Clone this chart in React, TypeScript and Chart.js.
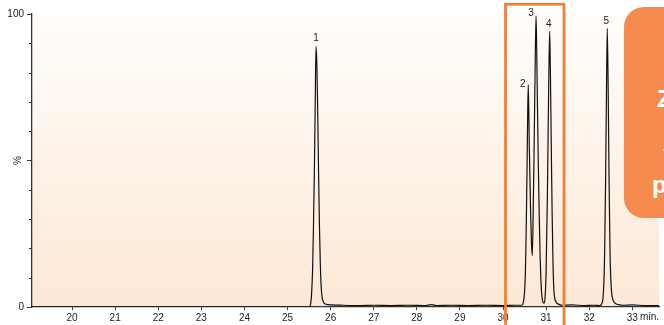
import React, { useEffect, useRef } from 'react';
import { Chart, registerables } from 'chart.js';

Chart.register(...registerables);

// Chromatogram trace (retention time in min, relative intensity in %)
const times = [
  19.07, 25.5, 25.52, 25.54, 25.56, 25.58, 25.6, 25.62, 25.64, 25.66, 25.68, 25.7, 25.72, 25.74, 25.76, 25.78, 25.8, 25.83, 25.88, 25.95,
  26.3, 26.7, 27.0, 27.4, 27.8, 28.2, 28.35, 28.45, 28.8, 29.2, 29.6, 30.0, 30.3, 30.44,
  30.47, 30.5, 30.52, 30.54, 30.56, 30.575, 30.587, 30.61, 30.64, 30.66, 30.68,
  30.7, 30.72, 30.74, 30.766, 30.78, 30.8, 30.82, 30.84, 30.86, 30.88, 30.9, 30.92, 30.95,
  30.975, 31.0, 31.03, 31.06, 31.083, 31.1, 31.12, 31.14, 31.16, 31.18, 31.2, 31.24, 31.3, 31.36,
  31.6, 31.9, 32.1, 32.25, 32.29, 32.32, 32.34, 32.36, 32.38, 32.4, 32.42, 32.44, 32.46, 32.48, 32.5, 32.52, 32.55, 32.6, 32.68,
  32.8, 33.0, 33.3, 33.62,
];
const intensity = [
  0, 0, 0.3, 1.5, 5, 12, 26, 44, 66, 89, 83, 67, 46, 28, 15, 7, 3.5, 1.8, 1, 0.8,
  0.6, 0.5, 0.6, 0.5, 0.6, 0.5, 0.8, 0.5, 0.6, 0.5, 0.6, 0.5, 0.6, 0.6,
  1.5, 5, 12, 28, 50, 68, 75.8, 55, 33, 22, 17.5,
  32, 52, 75, 99.4, 90, 68, 48, 32, 18, 9, 4, 2, 1.3,
  3, 12, 38, 75, 94.2, 80, 55, 32, 15, 6, 3, 1.5, 0.9, 0.6,
  0.7, 0.5, 0.6, 0.5, 1, 3, 8, 20, 42, 72, 95.1, 75, 45, 22, 10, 5, 2.5, 1.3, 0.8,
  0.6, 0.7, 0.5, 0.5,
];

// Peak annotations
const peakNames = ['1', '2', '3', '4', '5'];
const peakTimes = [25.66, 30.587, 30.766, 31.083, 32.42];
const peakHeights = [89, 75.8, 99.4, 94.2, 95.1];

// Axis settings
const xMin = 19.07;
const xMax = 33.62;
const xStep = 1;
const yMin = 0;
const yMax = 100;
const yStep = 10;
const yLabelValues = [0, 100];
const xUnit = 'min.';
const yUnit = '%';

// Highlighted retention window (peaks 2–4)
const highlightRange = [30.058, 31.415];

// Callout text lines
const calloutLines = ['Zoom', 'your', 'peaks'];

const FONT = '"Liberation Sans", Arial, Helvetica, sans-serif';
const labelOffsets = [
  [0, -7.5],
  [-5.5, -1],
  [-5, -3],
  [-1, -7],
  [-1, -7],
];

const decorPlugin = {
  id: 'decor',
  beforeDraw(chart: any) {
    const { ctx, chartArea } = chart;
    const { left, right, top, bottom } = chartArea;
    const g = ctx.createLinearGradient(0, top, 0, bottom);
    g.addColorStop(0, '#fffdfb');
    g.addColorStop(1, '#fde8d6');
    ctx.save();
    ctx.fillStyle = g;
    ctx.fillRect(left, top, right - left, bottom - top);
    ctx.restore();
  },
  afterDraw(chart: any) {
    const { ctx } = chart;
    const xs = chart.scales.x;
    const ys = chart.scales.y;
    ctx.save();
    // minor y ticks
    ctx.strokeStyle = '#333';
    ctx.lineWidth = 1;
    ctx.beginPath();
    ys.ticks.forEach((t: any) => {
      if (t.value % 50 !== 0) {
        const py = Math.round(ys.getPixelForValue(t.value)) + 0.5;
        ctx.moveTo(ys.right - 3, py);
        ctx.lineTo(ys.right, py);
      }
    });
    ctx.stroke();
    // peak labels
    ctx.fillStyle = '#222';
    ctx.font = `10px ${FONT}`;
    ctx.textAlign = 'center';
    ctx.textBaseline = 'middle';
    peakNames.forEach((n, i) => {
      const px = xs.getPixelForValue(peakTimes[i]) + labelOffsets[i][0];
      const py = ys.getPixelForValue(peakHeights[i]) + labelOffsets[i][1];
      ctx.fillText(n, px, py);
    });
    // highlight rectangle
    const x1 = xs.getPixelForValue(highlightRange[0]);
    const x2 = xs.getPixelForValue(highlightRange[1]);
    ctx.strokeStyle = '#f27b35';
    ctx.lineWidth = 2.7;
    ctx.strokeRect(x1, 4.2, x2 - x1, 340);
    ctx.restore();
  },
};

export default function App() {
  const ref = useRef<HTMLCanvasElement>(null);
  useEffect(() => {
    const chart = new Chart(ref.current as HTMLCanvasElement, {
      type: 'line',
      data: {
        datasets: [
          {
            data: times.map((t, i) => ({ x: t, y: intensity[i] })),
            borderColor: '#111',
            borderWidth: 1.2,
            pointRadius: 0,
            cubicInterpolationMode: 'monotone',
            fill: false,
          },
        ],
      },
      options: {
        animation: false,
        responsive: false,
        devicePixelRatio: 1,
        layout: { padding: { top: 14, right: 5, left: 0, bottom: 0 } },
        plugins: { legend: { display: false }, tooltip: { enabled: false } },
        scales: {
          x: {
            type: 'linear',
            min: xMin,
            max: xMax,
            afterFit: (s: any) => {
              s.height = 18;
            },
            border: { color: '#333', width: 1.3 },
            grid: { drawOnChartArea: false, tickLength: 3, color: '#333' },
            ticks: {
              stepSize: xStep,
              includeBounds: false,
              autoSkip: false,
              maxRotation: 0,
              padding: 2,
              color: '#222',
              font: { size: 10, family: FONT },
              callback: (v: any) => String(v),
            },
            title: {
              display: true,
              text: xUnit,
              align: 'end',
              padding: { top: 0, bottom: 1.5 },
              color: '#222',
              font: { size: 10, family: FONT },
            },
          },
          y: {
            min: yMin,
            max: yMax,
            afterFit: (s: any) => {
              s.width = 32;
            },
            border: { color: '#333', width: 1.3 },
            grid: {
              drawOnChartArea: false,
              tickLength: 5,
              tickColor: (c: any) => (c.tick && c.tick.value % 50 === 0 ? '#333' : 'rgba(0,0,0,0)'),
            },
            ticks: {
              stepSize: yStep,
              padding: 3,
              color: '#222',
              font: { size: 10, family: FONT },
              callback: (v: any) => (yLabelValues.includes(v) ? String(v) : ''),
            },
            title: {
              display: true,
              text: yUnit,
              padding: { top: 12, bottom: 0 },
              color: '#222',
              font: { size: 10, family: FONT },
            },
          },
        },
      } as any,
      plugins: [decorPlugin],
    });
    return () => chart.destroy();
  }, []);

  const textStyle: React.CSSProperties = {
    position: 'absolute',
    font: `bold 24px ${FONT}`,
    lineHeight: '24px',
    color: '#fff',
    whiteSpace: 'nowrap',
  };

  return (
    <div
      style={{
        position: 'fixed',
        left: 0,
        top: 0,
        width: 664,
        height: 325,
        overflow: 'hidden',
        background: '#fff',
      }}
    >
      <canvas ref={ref} width={664} height={325} style={{ display: 'block', width: 664, height: 325 }} />
      <div
        style={{
          position: 'absolute',
          left: 624,
          top: 7,
          width: 160,
          height: 211,
          borderRadius: 20,
          background: '#f68b4e',
        }}
      />
      <div style={{ ...textStyle, left: 657, top: 87 }}>{calloutLines[0]}</div>
      <div style={{ ...textStyle, left: 663, top: 142 }}>{calloutLines[1]}</div>
      <div style={{ ...textStyle, left: 652, top: 173 }}>{calloutLines[2]}</div>
    </div>
  );
}
